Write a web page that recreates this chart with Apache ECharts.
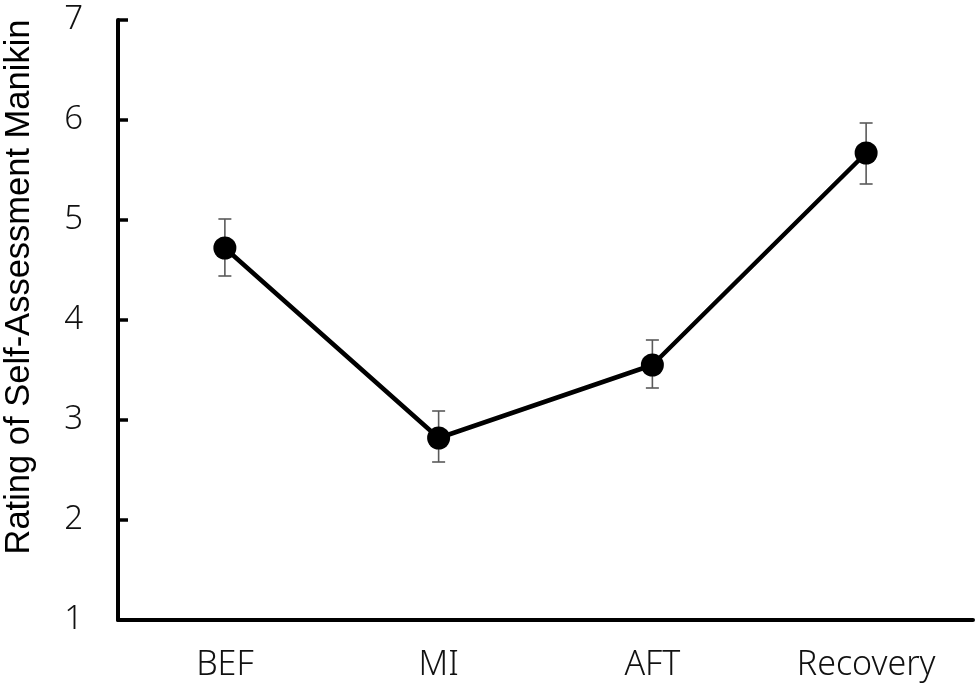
<!DOCTYPE html>
<html>
<head>
<meta charset="utf-8">
<script src="https://cdn.jsdelivr.net/npm/echarts@6/dist/echarts.min.js"></script>
<style>html,body{margin:0;padding:0;background:#fff}#c{width:980px;height:687px}</style>
</head>
<body>
<div id="c"></div>
<script>
var categories = ['BEF', 'MI', 'AFT', 'Recovery'];
var means = [4.72, 2.82, 3.55, 5.67];
var errUpper = [5.01, 3.09, 3.80, 5.97];
var errLower = [4.44, 2.58, 3.32, 5.36];
var yTicks = [1, 2, 3, 4, 5, 6, 7];
var yTitle = 'Rating of Self-Assessment Manikin';

var chart = echarts.init(document.getElementById('c'), null, {renderer: 'canvas'});
var errData = categories.map(function (c, i) { return [i, errLower[i], errUpper[i]]; });

chart.setOption({
  animation: false,
  backgroundColor: '#fff',
  grid: {left: 118, right: 7, top: 20, bottom: 67},
  xAxis: {
    type: 'category',
    data: categories,
    boundaryGap: true,
    axisLine: {lineStyle: {color: '#000', width: 4}},
    axisTick: {inside: true, length: 10, lineStyle: {color: '#000', width: 3.5}},
    axisLabel: {color: '#111', fontFamily: 'Noto Sans', fontSize: 34, fontWeight: 300, margin: 28}
  },
  yAxis: {
    type: 'value',
    min: yTicks[0],
    max: yTicks[yTicks.length - 1],
    interval: 1,
    splitLine: {show: false},
    axisLine: {show: true, lineStyle: {color: '#000', width: 4}},
    axisTick: {show: true, inside: true, length: 10, lineStyle: {color: '#000', width: 3.5}},
    axisLabel: {color: '#111', fontFamily: 'Noto Sans', fontSize: 33, fontWeight: 300, margin: 35}
  },
  graphic: [{
    type: 'text',
    x: 19, y: 287,
    rotation: Math.PI / 2,
    style: {
      text: yTitle,
      fill: '#000',
      font: '34.5px "Liberation Sans", Arial, sans-serif',
      textAlign: 'center',
      textVerticalAlign: 'middle'
    }
  }],
  series: [
    {
      type: 'custom',
      data: errData,
      z: 1,
      renderItem: function (params, api) {
        var x = api.value(0);
        var lo = api.coord([x, api.value(1)]);
        var hi = api.coord([x, api.value(2)]);
        var hw = 6.5;
        var st = {stroke: '#5a5a5a', lineWidth: 1.6};
        return {
          type: 'group',
          children: [
            {type: 'line', shape: {x1: lo[0], y1: lo[1], x2: hi[0], y2: hi[1]}, style: st},
            {type: 'line', shape: {x1: lo[0] - hw, y1: lo[1], x2: lo[0] + hw, y2: lo[1]}, style: st},
            {type: 'line', shape: {x1: hi[0] - hw, y1: hi[1], x2: hi[0] + hw, y2: hi[1]}, style: st}
          ]
        };
      }
    },
    {
      type: 'line',
      data: means,
      z: 3,
      symbol: 'circle',
      symbolSize: 23,
      lineStyle: {color: '#000', width: 4.5},
      itemStyle: {color: '#000', borderWidth: 0}
    }
  ]
});
</script>
</body>
</html>
